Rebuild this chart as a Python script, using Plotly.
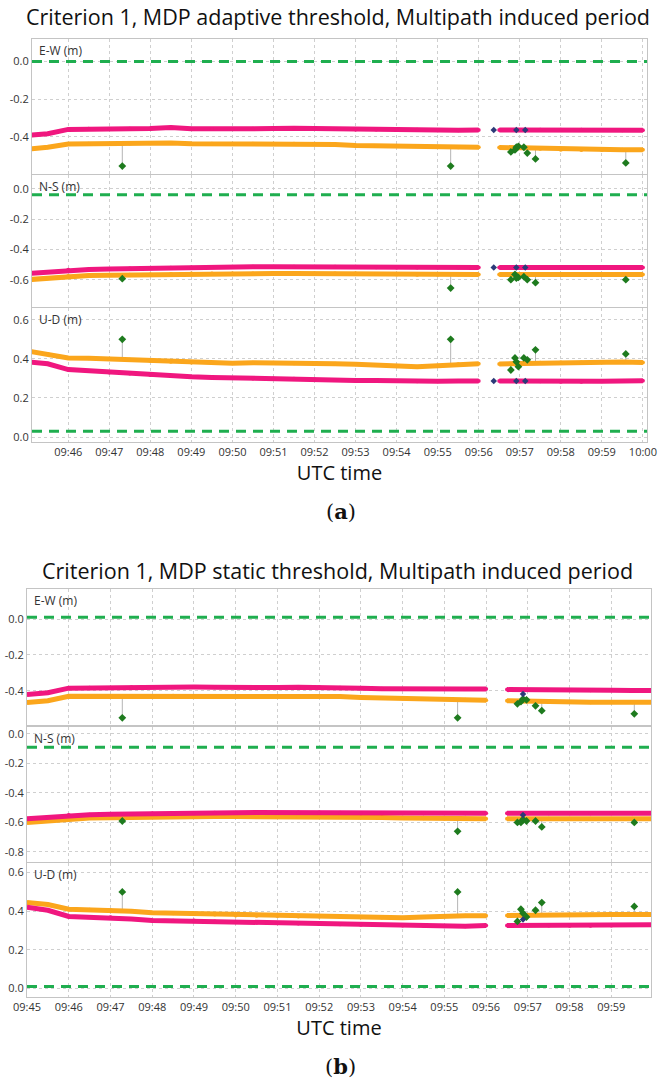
import plotly.graph_objects as go

# Positions: time stamps at 30 s steps, with a gap entry (None values) at 09:56:15
TIMES = ["09:45:00", "09:45:30", "09:46:00", "09:46:30", "09:47:00", "09:47:30", "09:48:00", "09:48:30",
         "09:49:00", "09:49:30", "09:50:00", "09:50:30", "09:51:00", "09:51:30", "09:52:00", "09:52:30",
         "09:53:00", "09:53:30", "09:54:00", "09:54:30", "09:55:00", "09:55:30", "09:56:00", "09:56:15",
         "09:56:30", "09:57:00", "09:57:30", "09:58:00", "09:58:30", "09:59:00", "09:59:30", "10:00:00"]

# ---- panel (a): adaptive threshold
A_EW_PINK = [-0.392, -0.383, -0.36, -0.357, -0.357, -0.357, -0.355, -0.35, -0.357, -0.358, -0.358, -0.357,
             -0.356, -0.354, -0.356, -0.358, -0.36, -0.361, -0.362, -0.362, -0.365, -0.365, -0.363, None,
             -0.363, -0.363, -0.362, -0.362, -0.362, -0.363, -0.364, -0.364]
A_EW_ORANGE = [-0.465, -0.455, -0.438, -0.436, -0.436, -0.435, -0.434, -0.432, -0.436, -0.437, -0.438, -0.437,
               -0.436, -0.436, -0.438, -0.44, -0.446, -0.448, -0.448, -0.448, -0.452, -0.455, -0.455, None,
               -0.456, -0.458, -0.463, -0.468, -0.47, -0.47, -0.468, -0.468]
A_NS_PINK = [-0.56, -0.55, -0.535, -0.533, -0.53, -0.527, -0.525, -0.522, -0.52, -0.517, -0.515, -0.515,
             -0.515, -0.515, -0.515, -0.515, -0.515, -0.518, -0.52, -0.52, -0.52, -0.52, -0.52, None,
             -0.52, -0.52, -0.52, -0.52, -0.52, -0.52, -0.52, -0.52]
A_NS_ORANGE = [-0.6, -0.59, -0.575, -0.573, -0.57, -0.568, -0.565, -0.563, -0.56, -0.56, -0.56, -0.56,
               -0.56, -0.56, -0.56, -0.56, -0.56, -0.562, -0.565, -0.568, -0.568, -0.566, -0.565, None,
               -0.566, -0.567, -0.568, -0.568, -0.568, -0.567, -0.566, -0.566]
A_UD_PINK = [0.385, 0.375, 0.345, 0.338, 0.33, 0.325, 0.318, 0.312, 0.308, 0.305, 0.302, 0.3,
             0.3, 0.298, 0.295, 0.292, 0.29, 0.29, 0.287, 0.285, 0.285, 0.287, 0.287, None,
             0.287, 0.286, 0.285, 0.283, 0.283, 0.285, 0.287, 0.288]
A_UD_ORANGE = [0.44, 0.425, 0.405, 0.403, 0.4, 0.395, 0.39, 0.385, 0.382, 0.38, 0.378, 0.38,
               0.38, 0.378, 0.377, 0.375, 0.372, 0.368, 0.362, 0.36, 0.365, 0.372, 0.375, None,
               0.374, 0.376, 0.38, 0.382, 0.382, 0.383, 0.384, 0.382]
A_LIMITS = [0.0, -0.04, 0.03]  # green dashed levels E-W, N-S, U-D

A_GREEN_T = ["09:47:19", "09:55:19", "09:56:47", "09:56:53", "09:56:55", "09:56:58", "09:57:06", "09:57:11",
             "09:57:23", "09:59:35"]
A_EW_GREEN = [-0.555, -0.555, -0.48, -0.469, -0.455, -0.45, -0.455, -0.486, -0.517, -0.538]
A_NS_GREEN = [-0.593, -0.655, -0.6, -0.565, -0.59, -0.585, -0.58, -0.6, -0.62, -0.6]
A_UD_GREEN = [0.5, 0.5, 0.343, 0.405, 0.385, 0.36, 0.405, 0.395, 0.446, 0.425]
# orange level at the outlier epochs (foot of the grey connectors)
A_EW_BASE = [-0.435, -0.455, -0.456, -0.457, -0.457, -0.457, -0.458, -0.459, -0.462, -0.468]
A_NS_BASE = [-0.569, -0.566, -0.566, -0.567, -0.567, -0.567, -0.567, -0.567, -0.567, -0.566]
A_UD_BASE = [0.397, 0.372, 0.375, 0.375, 0.376, 0.376, 0.376, 0.377, 0.378, 0.384]
A_NAVY_T = ["09:56:22", "09:56:55", "09:57:08"]
A_EW_NAVY = [-0.363, -0.363, -0.363]
A_NS_NAVY = [-0.52, -0.52, -0.52]
A_UD_NAVY = [0.287, 0.287, 0.287]

# ---- panel (b): static threshold
B_EW_PINK = [-0.42, -0.41, -0.385, -0.383, -0.382, -0.38, -0.378, -0.378, -0.379, -0.38, -0.382, -0.382,
             -0.381, -0.38, -0.38, -0.382, -0.385, -0.388, -0.39, -0.39, -0.39, -0.39, -0.39, None,
             -0.393, -0.395, -0.395, -0.396, -0.396, -0.397, -0.398, -0.398]
B_EW_ORANGE = [-0.465, -0.455, -0.43, -0.43, -0.43, -0.428, -0.428, -0.427, -0.428, -0.43, -0.432, -0.432,
               -0.432, -0.43, -0.43, -0.432, -0.437, -0.44, -0.443, -0.445, -0.447, -0.45, -0.452, None,
               -0.455, -0.458, -0.46, -0.462, -0.463, -0.463, -0.463, -0.463]
B_NS_PINK = [-0.575, -0.565, -0.55, -0.548, -0.545, -0.542, -0.54, -0.538, -0.537, -0.535, -0.535, -0.533,
             -0.533, -0.532, -0.533, -0.535, -0.537, -0.537, -0.537, -0.537, -0.537, -0.537, -0.537, None,
             -0.537, -0.537, -0.537, -0.537, -0.538, -0.538, -0.538, -0.538]
B_NS_ORANGE = [-0.6, -0.59, -0.573, -0.57, -0.568, -0.565, -0.563, -0.562, -0.56, -0.56, -0.56, -0.56,
               -0.56, -0.56, -0.56, -0.562, -0.565, -0.567, -0.57, -0.572, -0.573, -0.575, -0.575, None,
               -0.575, -0.575, -0.575, -0.575, -0.575, -0.575, -0.575, -0.575]
B_UD_PINK = [0.42, 0.405, 0.373, 0.37, 0.368, 0.36, 0.352, 0.35, 0.352, 0.347, 0.343, 0.34,
             0.338, 0.336, 0.334, 0.332, 0.33, 0.328, 0.326, 0.324, 0.322, 0.322, 0.326, None,
             0.326, 0.326, 0.326, 0.325, 0.325, 0.326, 0.328, 0.33]
B_UD_ORANGE = [0.445, 0.435, 0.41, 0.407, 0.405, 0.4, 0.392, 0.39, 0.387, 0.383, 0.378, 0.377,
               0.375, 0.373, 0.372, 0.37, 0.368, 0.367, 0.366, 0.37, 0.375, 0.377, 0.376, None,
               0.378, 0.38, 0.382, 0.383, 0.383, 0.383, 0.383, 0.383]
B_LIMITS = [0.01, -0.09, 0.01]

B_GREEN_T = ["09:47:17", "09:55:19", "09:56:45", "09:56:50", "09:56:53", "09:56:58", "09:57:11", "09:57:20",
             "09:59:33"]
B_EW_GREEN = [-0.55, -0.55, -0.472, -0.46, -0.445, -0.45, -0.483, -0.51, -0.528]
B_NS_GREEN = [-0.59, -0.66, -0.6, -0.6, -0.58, -0.59, -0.59, -0.63, -0.6]
B_UD_GREEN = [0.5, 0.5, 0.347, 0.41, 0.39, 0.37, 0.405, 0.445, 0.425]
B_EW_BASE = [-0.429, -0.451, -0.455, -0.456, -0.457, -0.458, -0.459, -0.46, -0.463]
B_NS_BASE = [-0.563, -0.575, -0.575, -0.575, -0.575, -0.575, -0.575, -0.575, -0.575]
B_UD_BASE = [0.4, 0.376, 0.378, 0.379, 0.38, 0.38, 0.38, 0.381, 0.383]
B_NAVY_T = ["09:56:53"]
B_EW_NAVY = [-0.417]
B_NS_NAVY = [-0.55]
B_UD_NAVY = [0.357]

COMPONENTS = ["E-W (m)", "N-S (m)", "U-D (m)"]
MINUTE_LABELS = ["09:45", "09:46", "09:47", "09:48", "09:49", "09:50", "09:51", "09:52", "09:53",
                 "09:54", "09:55", "09:56", "09:57", "09:58", "09:59", "10:00"]

PINK = "#f0177f"
ORANGE = "#fba61c"
GREEN = "#1e7b1e"
NAVY = "#2c3a78"
LIMIT = "#1fae4f"
FONT = "Open Sans"

W, H = 671, 1084
DAY = "2021-01-01 "


def ts(values):
    return [DAY + v for v in values]


def ydom(top, bot):
    return [1 - bot / H, 1 - top / H]


PANELS = [
    dict(xdom=[32 / W, 647 / W], xrange=["09:45:07", "10:00:06"],
         ydoms=[ydom(39, 174), ydom(175, 307), ydom(308, 442)],
         yranges=[[-0.597, 0.12], [-0.78, 0.09], [-0.025, 0.66]],
         ticks=[[0, -0.2, -0.4], [0, -0.2, -0.4, -0.6], [0, 0.2, 0.4, 0.6]],
         pink=[A_EW_PINK, A_NS_PINK, A_UD_PINK], orange=[A_EW_ORANGE, A_NS_ORANGE, A_UD_ORANGE],
         green_t=A_GREEN_T, green=[A_EW_GREEN, A_NS_GREEN, A_UD_GREEN],
         base=[A_EW_BASE, A_NS_BASE, A_UD_BASE],
         navy_t=A_NAVY_T, navy=[A_EW_NAVY, A_NS_NAVY, A_UD_NAVY], limits=A_LIMITS),
    dict(xdom=[27 / W, 651 / W], xrange=["09:45:00", "09:59:57"],
         ydoms=[ydom(589, 725), ydom(727, 862), ydom(863, 997)],
         yranges=[[-0.59, 0.167], [-0.868, 0.047], [-0.045, 0.65]],
         ticks=[[0, -0.2, -0.4], [0, -0.2, -0.4, -0.6, -0.8], [0, 0.2, 0.4, 0.6]],
         pink=[B_EW_PINK, B_NS_PINK, B_UD_PINK], orange=[B_EW_ORANGE, B_NS_ORANGE, B_UD_ORANGE],
         green_t=B_GREEN_T, green=[B_EW_GREEN, B_NS_GREEN, B_UD_GREEN],
         base=[B_EW_BASE, B_NS_BASE, B_UD_BASE],
         navy_t=B_NAVY_T, navy=[B_EW_NAVY, B_NS_NAVY, B_UD_NAVY], limits=B_LIMITS),
]

fig = go.Figure()
layout = {}
annotations = []
k = 0
for p in PANELS:
    for c in range(3):
        k += 1
        xa = "x" if k == 1 else f"x{k}"
        ya = "y" if k == 1 else f"y{k}"
        xname = "xaxis" if k == 1 else f"xaxis{k}"
        yname = "yaxis" if k == 1 else f"yaxis{k}"
        bottom = c == 2
        layout[xname] = dict(
            domain=p["xdom"], anchor=ya, type="date", range=ts(p["xrange"]), automargin=False,
            tickmode="array", tickvals=ts([m + ":00" for m in MINUTE_LABELS]), ticktext=MINUTE_LABELS,
            showticklabels=bottom, ticks="", showgrid=True, gridcolor="#cfcfcf", griddash="dot",
            gridwidth=1, showline=True, mirror=True, linecolor="#c4c4c4", linewidth=1,
            zeroline=False, tickfont=dict(family=FONT, size=11, color="#333"),
        )
        if bottom:
            layout[xname]["title"] = dict(text="UTC time", font=dict(family=FONT, size=20, color="#111"),
                                          standoff=0)
        layout[yname] = dict(
            domain=p["ydoms"][c], anchor=xa, range=p["yranges"][c], automargin=False,
            tickmode="array", tickvals=p["ticks"][c], ticktext=[f"{v:.1f}" for v in p["ticks"][c]],
            ticks="", showgrid=True, gridcolor="#cfcfcf", griddash="dot", gridwidth=1,
            showline=True, mirror=True, linecolor="#c4c4c4", linewidth=1, zeroline=False,
            tickfont=dict(family=FONT, size=11, color="#333"),
        )
        annotations.append(dict(text=COMPONENTS[c], xref=f"{xa} domain", yref=f"{ya} domain",
                                x=0.008, y=0.995, xanchor="left", yanchor="top", showarrow=False,
                                font=dict(family=FONT, size=12, color="#333")))

        fig.add_trace(go.Scatter(x=ts(p["xrange"]), y=[p["limits"][c]] * 2, mode="lines",
                                 line=dict(color=LIMIT, width=3, dash="10px,7px"),
                                 xaxis=xa, yaxis=ya, showlegend=False, hoverinfo="skip"))
        # thin grey connectors from the orange series to the outliers
        cx, cy = [], []
        for t, g, b in zip(p["green_t"], p["green"][c], p["base"][c]):
            cx += [DAY + t, DAY + t, None]
            cy += [g, b, None]
        fig.add_trace(go.Scatter(x=cx, y=cy, mode="lines", line=dict(color="#b5b5b5", width=1),
                                 xaxis=xa, yaxis=ya, showlegend=False, hoverinfo="skip"))
        fig.add_trace(go.Scatter(x=ts(TIMES), y=p["orange"][c], mode="lines+markers",
                                 line=dict(color=ORANGE, width=5), marker=dict(size=4, color=ORANGE),
                                 xaxis=xa, yaxis=ya, showlegend=False))
        fig.add_trace(go.Scatter(x=ts(TIMES), y=p["pink"][c], mode="lines+markers",
                                 line=dict(color=PINK, width=5), marker=dict(size=4, color=PINK),
                                 xaxis=xa, yaxis=ya, showlegend=False))
        fig.add_trace(go.Scatter(x=ts(p["green_t"]), y=p["green"][c], mode="markers",
                                 marker=dict(symbol="diamond", size=6, color=GREEN),
                                 xaxis=xa, yaxis=ya, showlegend=False))
        fig.add_trace(go.Scatter(x=ts(p["navy_t"]), y=p["navy"][c], mode="markers",
                                 marker=dict(symbol="diamond", size=5, color=NAVY),
                                 xaxis=xa, yaxis=ya, showlegend=False))

TITLES = ["Criterion 1, MDP adaptive threshold, Multipath induced period",
          "Criterion 1, MDP static threshold, Multipath induced period"]
for title, ypx, lab, lab_y in [(TITLES[0], 17, "(<b>a</b>)", 511), (TITLES[1], 570, "(<b>b</b>)", 1066)]:
    annotations.append(dict(text=title, xref="paper", yref="paper", x=0.503, y=1 - ypx / H,
                            xanchor="center", yanchor="middle", showarrow=False,
                            font=dict(family=FONT, size=21.5, color="#111")))
    annotations.append(dict(text=lab, xref="paper", yref="paper", x=0.508, y=1 - lab_y / H,
                            xanchor="center", yanchor="middle", showarrow=False,
                            font=dict(family="DejaVu Serif", size=21, color="#111")))

fig.update_layout(
    width=W, height=H, margin=dict(l=0, r=0, t=0, b=0, autoexpand=False),
    plot_bgcolor="white", paper_bgcolor="white", annotations=annotations, **layout,
)
fig.write_html("out.html", config={"displayModeBar": False},
               post_script="document.body.style.margin='0px';")
